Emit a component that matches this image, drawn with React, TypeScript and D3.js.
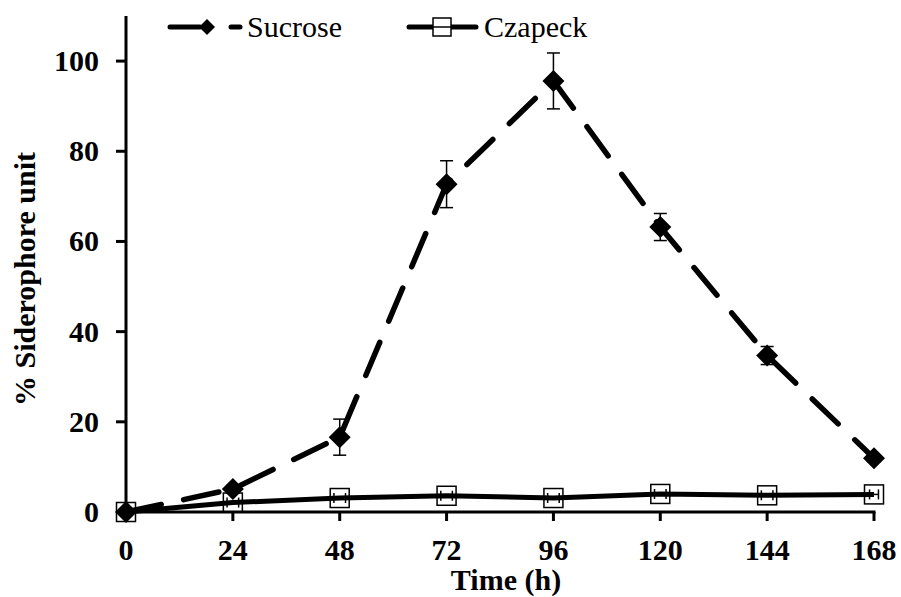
import React from "react";
import * as d3 from "d3";

const times = [0, 24, 48, 72, 96, 120, 144, 168];
const sucrose = [0, 5.1, 16.6, 72.7, 95.6, 63.2, 34.7, 11.9];
const sucroseErr = [0, 0.8, 4.0, 5.2, 6.2, 3.0, 2.0, 0.8];
const czapeck = [0, 2.1, 3.1, 3.6, 3.1, 4.0, 3.7, 3.9];
const czapeckXErr = [0, 1.3, 1.3, 1.3, 1.3, 1.3, 1.3, 1.0];
const xTicks = [0, 24, 48, 72, 96, 120, 144, 168];
const yTicks = [0, 20, 40, 60, 80, 100];

const W = 901;
const H = 597;
const FONT = "Liberation Serif";

export default function App() {
  const x = d3.scaleLinear().domain([0, 168]).range([126, 874]);
  const y = d3.scaleLinear().domain([0, 110]).range([512, 16]);
  const line = d3
    .line<number>()
    .x((_, i) => x(times[i]))
    .y((d) => y(d));

  const diamond = (cx: number, cy: number, r: number) =>
    `M${cx},${cy - r}L${cx + r},${cy}L${cx},${cy + r}L${cx - r},${cy}Z`;

  const T = (props: any) => (
    <text {...props} fontFamily={FONT} style={{ fontFamily: FONT }}>
      {props.children}
    </text>
  );

  return (
    <svg width={W} height={H} style={{ position: "absolute", left: 0, top: 0, background: "#fff" }}>
      <style>{`text { font-family: 'Liberation Serif', serif; }`}</style>
      {/* axes */}
      <line x1={x(0)} x2={x(0)} y1={y(110)} y2={y(0) + 1.5} stroke="#000" strokeWidth={3} />
      <line x1={x(0) - 1.5} x2={x(168) + 1.5} y1={y(0)} y2={y(0)} stroke="#000" strokeWidth={3} />
      {yTicks.map((t) => (
        <g key={"y" + t}>
          <line x1={x(0) - 10} x2={x(0)} y1={y(t)} y2={y(t)} stroke="#000" strokeWidth={3} />
          <T x={99} y={y(t) + 10} textAnchor="end" fontSize={30} fontWeight="bold">
            {t}
          </T>
        </g>
      ))}
      {xTicks.map((t) => (
        <g key={"x" + t}>
          <line x1={x(t)} x2={x(t)} y1={y(0)} y2={y(0) + 9} stroke="#000" strokeWidth={3} />
          <T x={x(t)} y={560} textAnchor="middle" fontSize={30} fontWeight="bold">
            {t}
          </T>
        </g>
      ))}
      <T x={506} y={590} textAnchor="middle" fontSize={30} fontWeight="bold">
        Time (h)
      </T>
      <T transform={`translate(35,279) rotate(-90)`} textAnchor="middle" fontSize={30} fontWeight="bold">
        % Siderophore unit
      </T>

      {/* Czapeck */}
      <path d={line(czapeck) || ""} fill="none" stroke="#000" strokeWidth={5} strokeLinejoin="round" />
      {czapeck.map((v, i) => {
        const cx = x(times[i]);
        const cy = y(v);
        const dx = x(czapeckXErr[i]) - x(0);
        return (
          <g key={"c" + i}>
            <rect x={cx - 9.5} y={cy - 9.5} width={19} height={19} fill="none" stroke="#000" strokeWidth={1.5} />
            {dx > 0 && (
              <g stroke="#000" strokeWidth={1.5}>
                <line x1={cx - dx} x2={cx + dx} y1={cy} y2={cy} />
                <line x1={cx - dx} x2={cx - dx} y1={cy - 5} y2={cy + 5} />
                <line x1={cx + dx} x2={cx + dx} y1={cy - 5} y2={cy + 5} />
              </g>
            )}
          </g>
        );
      })}

      {/* Sucrose */}
      <path
        d={line(sucrose) || ""}
        fill="none"
        stroke="#000"
        strokeWidth={5.5}
        strokeDasharray="36 23"
        strokeLinecap="round"
      />
      {sucrose.map((v, i) => {
        const cx = x(times[i]);
        const e = sucroseErr[i];
        return (
          <g key={"s" + i}>
            {e > 0 && (
              <g stroke="#000" strokeWidth={1.5}>
                <line x1={cx} x2={cx} y1={y(v + e)} y2={y(v - e)} />
                <line x1={cx - 6.5} x2={cx + 6.5} y1={y(v + e)} y2={y(v + e)} />
                <line x1={cx - 6.5} x2={cx + 6.5} y1={y(v - e)} y2={y(v - e)} />
              </g>
            )}
            <path d={diamond(cx, y(v), 11)} fill="#000" />
          </g>
        );
      })}

      {/* legend */}
      <line x1={170} x2={200} y1={27} y2={27} stroke="#000" strokeWidth={5} strokeLinecap="round" />
      <path d={diamond(207, 27, 8)} fill="#000" />
      <line x1={231} x2={240} y1={27} y2={27} stroke="#000" strokeWidth={5} strokeLinecap="round" />
      <T x={247} y={37} fontSize={30}>
        Sucrose
      </T>
      <line x1={409} x2={476} y1={27} y2={27} stroke="#000" strokeWidth={5} strokeLinecap="round" />
      <rect x={433} y={18} width={18} height={18} fill="#fff" stroke="#000" strokeWidth={1.5} />
      <line x1={433} x2={451} y1={27} y2={27} stroke="#000" strokeWidth={1.5} />
      <T x={484} y={37} fontSize={30}>
        Czapeck
      </T>
    </svg>
  );
}
